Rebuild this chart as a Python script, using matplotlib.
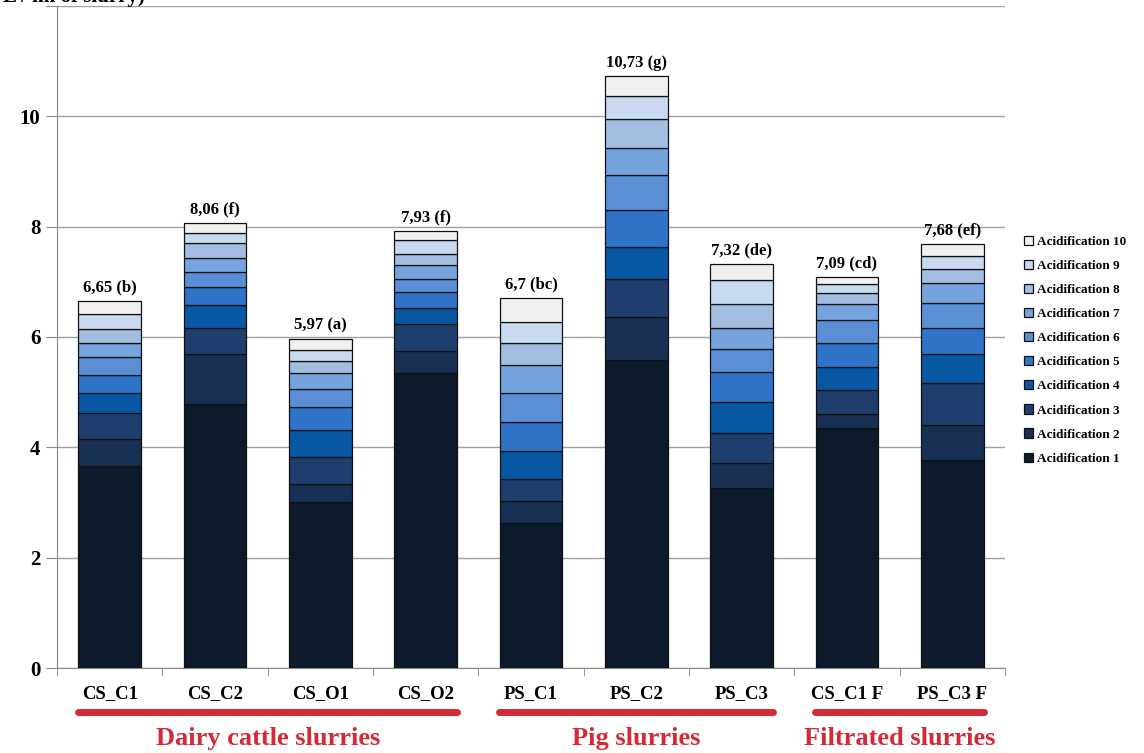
import matplotlib.pyplot as plt
import numpy as np

categories = ['CS_C1', 'CS_C2', 'CS_O1', 'CS_O2', 'PS_C1', 'PS_C2', 'PS_C3', 'CS_C1 F', 'PS_C3 F']
# one list per acidification step, one value per slurry
acid1 = [3.66, 4.78, 3.01, 5.34, 2.62, 5.59, 3.26, 4.35, 3.77]
acid2 = [0.50, 0.92, 0.32, 0.40, 0.40, 0.77, 0.45, 0.26, 0.64]
acid3 = [0.47, 0.47, 0.49, 0.49, 0.40, 0.69, 0.55, 0.43, 0.75]
acid4 = [0.35, 0.41, 0.50, 0.30, 0.51, 0.59, 0.57, 0.41, 0.53]
acid5 = [0.34, 0.33, 0.42, 0.28, 0.53, 0.66, 0.53, 0.45, 0.47]
acid6 = [0.31, 0.27, 0.31, 0.25, 0.53, 0.64, 0.42, 0.40, 0.46]
acid7 = [0.26, 0.26, 0.30, 0.25, 0.50, 0.49, 0.39, 0.30, 0.35]
acid8 = [0.25, 0.27, 0.22, 0.20, 0.40, 0.52, 0.42, 0.19, 0.26]
acid9 = [0.28, 0.18, 0.20, 0.24, 0.39, 0.42, 0.44, 0.17, 0.24]
acid10 = [0.23, 0.17, 0.20, 0.18, 0.42, 0.36, 0.29, 0.13, 0.21]
totals = ['6,65 (b)', '8,06 (f)', '5,97 (a)', '7,93 (f)', '6,7 (bc)', '10,73 (g)', '7,32 (de)', '7,09 (cd)', '7,68 (ef)']
groups = ['Dairy cattle slurries', 'Pig slurries', 'Filtrated slurries']
group_span = [(0, 3), (4, 6), (7, 8)]

series = [acid1, acid2, acid3, acid4, acid5, acid6, acid7, acid8, acid9, acid10]
names = ['Acidification %d' % (i + 1) for i in range(10)]
colors = ['#0d1a2b', '#172f52', '#1e3e6e', '#0757a3', '#2f74c8',
          '#5a8fd6', '#75a3dd', '#a2bde0', '#c8d9f0', '#f0f0f0']

plt.rcParams['font.family'] = ['Liberation Serif', 'DejaVu Serif']
plt.rcParams['font.weight'] = 'bold'

fig = plt.figure(figsize=(11.44, 7.53), dpi=100)
ax = fig.add_axes([57 / 1144, 1 - 668 / 753, 948 / 1144, 662 / 753])

x = np.arange(len(categories))
bottom = np.zeros(len(categories))
handles = []
for vals, name, col in zip(series, names, colors):
    b = ax.bar(x, vals, 0.595, bottom=bottom, color=col, edgecolor='#111111',
               linewidth=0.9, label=name, zorder=3)
    handles.append(b)
    bottom += np.array(vals)

for xi, top, lab in zip(x, bottom, totals):
    ax.text(xi, top + 0.1, lab, ha='center', va='bottom', fontsize=12, fontweight='bold')

ax.set_xlim(-0.5, 8.5)
ax.set_ylim(0, 12)
ax.set_yticks(range(0, 13, 2))
ax.set_yticklabels(['0', '2', '4', '6', '8', '10', ''])
ax.grid(axis='y', color='#a0a0a0', linewidth=1, zorder=0)
for s in ['top', 'right']:
    ax.spines[s].set_visible(False)
ax.spines['left'].set_color('#888888')
ax.spines['bottom'].set_color('#888888')
ax.tick_params(axis='y', length=8, color='#888888', labelsize=15, pad=4)
ax.set_xticks(x)
ax.set_xticklabels(categories, fontsize=13.5, fontweight='bold')
ax.tick_params(axis='x', length=0, pad=12)
ax.set_xticks(np.arange(-0.5, 9, 1), minor=True)
ax.tick_params(axis='x', which='minor', length=6, color='#888888')

# red group underlines and labels
for (a, b), g in zip(group_span, groups):
    ax.plot([a - 0.3, b + 0.3], [-0.8, -0.8], color='#d32a35', linewidth=5,
            solid_capstyle='round', clip_on=False)
    ax.text((a + b) / 2, -1.27, g, ha='center', va='center', color='#d32a35',
            fontsize=19, fontweight='bold')

# y-axis title, clipped by the top edge as in the source image
fig.text(0.003, 1 - 2 / 753, 'L / ml of slurry)', fontsize=15, fontweight='bold')

fig.legend(handles[::-1], names[::-1], loc='upper left', bbox_to_anchor=(1017 / 1144, 1 - 229 / 753),
           frameon=False, fontsize=9.5, handlelength=0.7, handleheight=0.7,
           handletextpad=0.3, labelspacing=0.9, borderpad=0)

fig.savefig('out.png', dpi=100)
